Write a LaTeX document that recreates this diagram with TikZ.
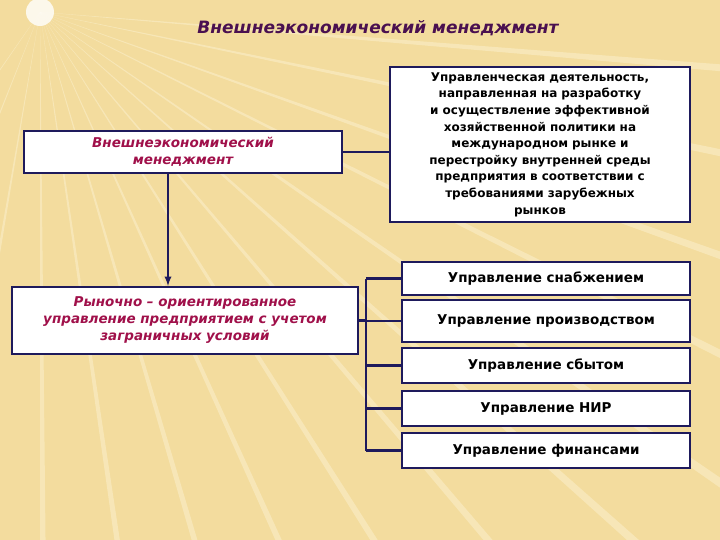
\documentclass[tikz,border=0pt]{standalone}
\usepackage{fontspec}
\setmainfont{DejaVu Sans}
\begin{document}
\begin{tikzpicture}[x=1pt,y=-1pt,
  box/.style={draw=navy,line width=2.2pt,fill=white,inner sep=0pt},
  lk/.style={draw=navy,line width=2.2pt},
  red/.style={text=crim,font=\bfseries\itshape\fontsize{13.5}{17}\selectfont,align=center},
  blk/.style={text=black,font=\bfseries\fontsize{12}{16.6}\selectfont,align=center},
  rb/.style={box,minimum width=288,text=black,font=\bfseries\fontsize{13.5}{16}\selectfont}]
\definecolor{navy}{HTML}{1E1A5C}
\definecolor{crim}{HTML}{A0104A}
\definecolor{bg}{HTML}{F3DC9E}
\definecolor{ray}{HTML}{FBF0CC}
\definecolor{tt}{HTML}{4A1050}
\fill[bg] (0,0) rectangle (720,540);
\useasboundingbox (0,0) rectangle (720,540);
\foreach \a in {5,12,20,27,35,42,50,58,66,74,82,90,100,112,125}
  \fill[ray,opacity=0.55] (40,12) -- ++(\a-0.6:900) -- ++(\a+90:9) -- cycle;
\fill[white,opacity=0.8] (40,12) circle (14);
\node[text=tt,font=\bfseries\itshape\fontsize{17}{20}\selectfont] (title) at (378,28) {Внешнеэкономический менеджмент};
\node[box,minimum width=318,minimum height=42,red] (A) at (183,152) {Внешнеэкономический\\менеджмент};
\node[box,minimum width=300,minimum height=155,blk,text width=296] (B) at (540,144.5) {Управленческая деятельность,\\ направленная на разработку\\ и осуществление эффективной\\ хозяйственной политики на\\ международном рынке и\\ перестройку внутренней среды\\ предприятия в соответствии с\\ требованиями зарубежных\\ рынков};
\node[box,minimum width=346,minimum height=67,red] (C) at (185,320.5) {Рыночно – ориентированное\\управление предприятием с учетом\\заграничных условий};
\node[rb,minimum height=33] (r1) at (546,278.5) {Управление снабжением};
\node[rb,minimum height=42] (r2) at (546,321) {Управление производством};
\node[rb,minimum height=35] (r3) at (546,365.5) {Управление сбытом};
\node[rb,minimum height=35] (r4) at (546,408.5) {Управление НИР};
\node[rb,minimum height=35] (r5) at (546,450.5) {Управление финансами};
\draw[lk] (A.east) -- (A.east -| B.west);
\draw[lk,-latex] (A.south -| 168,0) -- (C.north -| 168,0);
\coordinate (t1) at (366,278.5);
\coordinate (t5) at (366,450.5);
\draw[lk] (t1) -- (t5);
\draw[lk] (C.east) -- (C.east -| t1);
\foreach \r in {r1,r2,r3,r4,r5} \draw[lk] (\r.west -| t1) -- (\r.west);
\end{tikzpicture}
\end{document}
